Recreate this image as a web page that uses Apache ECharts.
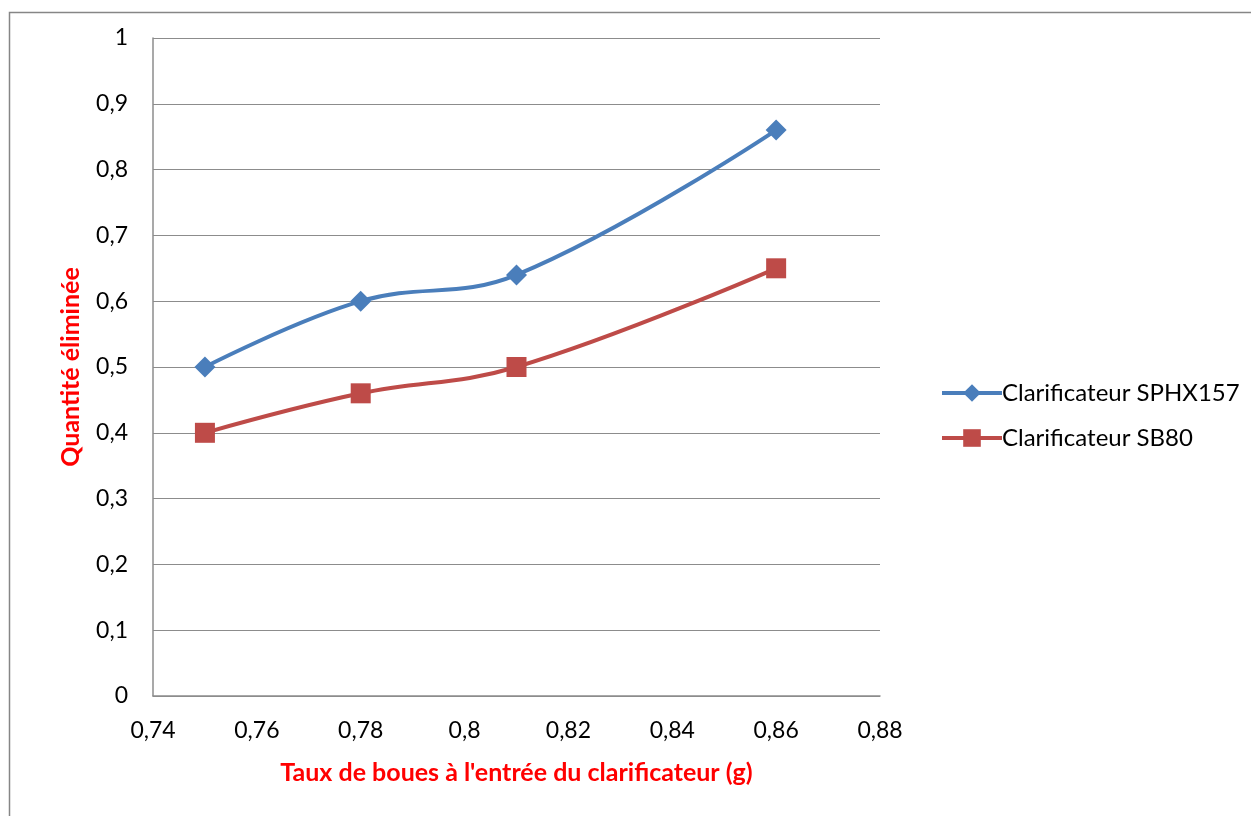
<!DOCTYPE html>
<html>
<head>
<meta charset="utf-8">
<script src="https://cdn.jsdelivr.net/npm/echarts@6/dist/echarts.min.js"></script>
<style>
html,body{margin:0;padding:0;background:#fff;}
#chart{width:1251px;height:816px;}
</style>
</head>
<body>
<div id="chart"></div>
<script>
// Sludge rate at clarifier inlet (g) and quantity removed
const tauxBoues = [0.75, 0.78, 0.81, 0.86];
const sphx157 = [0.5, 0.6, 0.64, 0.86];
const sb80 = [0.4, 0.46, 0.5, 0.65];
const seriesNames = ['Clarificateur SPHX157', 'Clarificateur SB80'];
const xTitle = "Taux de boues à l'entrée du clarificateur (g)";
const yTitle = 'Quantité éliminée';

const fmt = v => String(+v.toFixed(2)).replace('.', ',');
const font = "Lato, 'Open Sans', sans-serif";

const chart = echarts.init(document.getElementById('chart'), null, {renderer: 'canvas'});
chart.setOption({
  animation: false,
  backgroundColor: '#fff',
  textStyle: {fontFamily: font},
  graphic: [{
    type: 'rect',
    shape: {x: 9.5, y: 12.5, width: 1300, height: 900},
    style: {fill: 'none', stroke: '#868686', lineWidth: 1.5},
    silent: true, z: -1
  }],
  grid: {left: 153, top: 38, width: 727, height: 658, containLabel: false},
  legend: {
    orient: 'vertical',
    left: 935, top: 376,
    itemGap: 21,
    itemWidth: 60, itemHeight: 22,
    lineStyle: {width: 4},
    textStyle: {fontSize: 24, color: '#000', fontFamily: font, padding: [0, 0, 0, -5]},
    data: seriesNames.map(n => ({name: n}))
  },
  xAxis: {
    type: 'value', min: 0.74, max: 0.88, interval: 0.02,
    name: xTitle, nameLocation: 'middle', nameGap: 64,
    nameTextStyle: {color: '#ff0000', fontWeight: 'bold', fontSize: 25, fontFamily: font},
    axisLine: {show: true, lineStyle: {color: '#8c8c8c', width: 1.5}},
    axisTick: {show: false},
    splitLine: {show: false},
    axisLabel: {formatter: fmt, fontSize: 23, color: '#000', margin: 23, fontFamily: font}
  },
  yAxis: {
    type: 'value', min: 0, max: 1, interval: 0.1,
    name: yTitle, nameLocation: 'middle', nameGap: 70, nameRotate: 90,
    nameTextStyle: {color: '#ff0000', fontWeight: 'bold', fontSize: 25, fontFamily: font},
    axisLine: {show: true, lineStyle: {color: '#8c8c8c', width: 1.5}},
    axisTick: {show: false},
    splitLine: {show: true, lineStyle: {color: '#8c8c8c', width: 1.2}},
    axisLabel: {formatter: fmt, fontSize: 23, color: '#000', margin: 25, fontFamily: font}
  },
  series: [{
    name: seriesNames[0], type: 'line', smooth: 0.4,
    data: tauxBoues.map((x, i) => [x, sphx157[i]]),
    symbol: 'diamond', symbolSize: 21,
    lineStyle: {color: '#4a7ebb', width: 4},
    itemStyle: {color: '#4a7ebb'}
  }, {
    name: seriesNames[1], type: 'line', smooth: 0.4,
    data: tauxBoues.map((x, i) => [x, sb80[i]]),
    symbol: 'rect', symbolSize: 20,
    lineStyle: {color: '#be4b48', width: 4},
    itemStyle: {color: '#be4b48'}
  }]
});
</script>
</body>
</html>
